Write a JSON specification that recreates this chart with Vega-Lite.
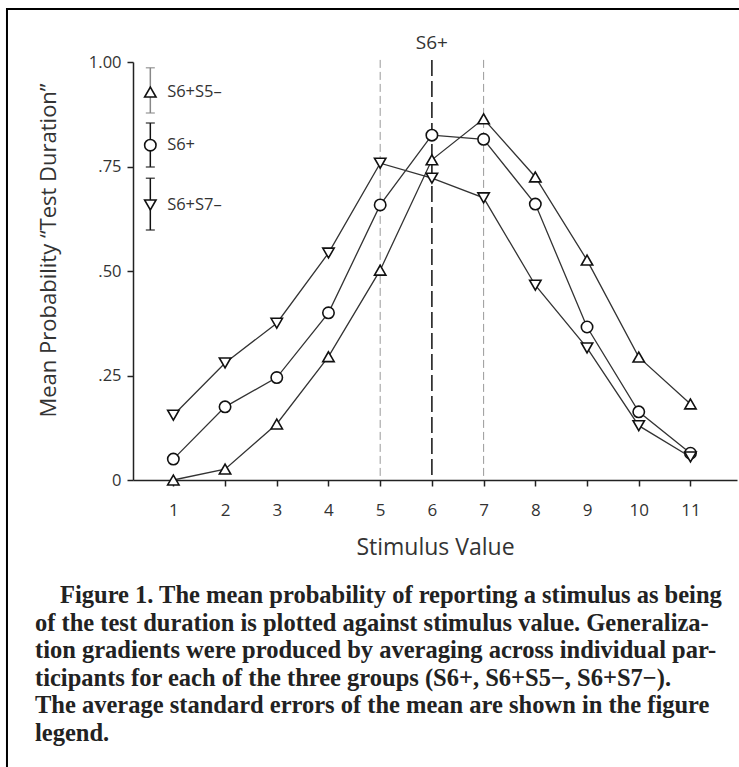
{
  "$schema": "https://vega.github.io/schema/vega-lite/v6.json",
  "width": 604,
  "height": 418,
  "autosize": {"type": "none"},
  "padding": {"left": 133, "top": 62, "right": 2, "bottom": 287},
  "background": "white",
  "config": {"view": {"stroke": null}, "font": "Open Sans"},
  "datasets": {
    "curves": [
      {"group": "S6+S5−", "stimulus": 1, "p": 0.0},
      {"group": "S6+S5−", "stimulus": 2, "p": 0.026},
      {"group": "S6+S5−", "stimulus": 3, "p": 0.134},
      {"group": "S6+S5−", "stimulus": 4, "p": 0.295},
      {"group": "S6+S5−", "stimulus": 5, "p": 0.502},
      {"group": "S6+S5−", "stimulus": 6, "p": 0.766},
      {"group": "S6+S5−", "stimulus": 7, "p": 0.864},
      {"group": "S6+S5−", "stimulus": 8, "p": 0.725},
      {"group": "S6+S5−", "stimulus": 9, "p": 0.526},
      {"group": "S6+S5−", "stimulus": 10, "p": 0.294},
      {"group": "S6+S5−", "stimulus": 11, "p": 0.182},
      {"group": "S6+", "stimulus": 1, "p": 0.05},
      {"group": "S6+", "stimulus": 2, "p": 0.175},
      {"group": "S6+", "stimulus": 3, "p": 0.245},
      {"group": "S6+", "stimulus": 4, "p": 0.4},
      {"group": "S6+", "stimulus": 5, "p": 0.658},
      {"group": "S6+", "stimulus": 6, "p": 0.825},
      {"group": "S6+", "stimulus": 7, "p": 0.815},
      {"group": "S6+", "stimulus": 8, "p": 0.66},
      {"group": "S6+", "stimulus": 9, "p": 0.366},
      {"group": "S6+", "stimulus": 10, "p": 0.163},
      {"group": "S6+", "stimulus": 11, "p": 0.064},
      {"group": "S6+S7−", "stimulus": 1, "p": 0.155},
      {"group": "S6+S7−", "stimulus": 2, "p": 0.28},
      {"group": "S6+S7−", "stimulus": 3, "p": 0.375},
      {"group": "S6+S7−", "stimulus": 4, "p": 0.543},
      {"group": "S6+S7−", "stimulus": 5, "p": 0.758},
      {"group": "S6+S7−", "stimulus": 6, "p": 0.722},
      {"group": "S6+S7−", "stimulus": 7, "p": 0.675},
      {"group": "S6+S7−", "stimulus": 8, "p": 0.466},
      {"group": "S6+S7−", "stimulus": 9, "p": 0.316},
      {"group": "S6+S7−", "stimulus": 10, "p": 0.13},
      {"group": "S6+S7−", "stimulus": 11, "p": 0.055}
    ],
    "legendSE": [
      {"group": "S6+S5−", "label": "S6+S5–", "m": 0.928, "lo": 0.878, "hi": 0.986, "tone": "gray"},
      {"group": "S6+", "label": "S6+", "m": 0.801, "lo": 0.749, "hi": 0.854, "tone": "black"},
      {"group": "S6+S7−", "label": "S6+S7–", "m": 0.658, "lo": 0.598, "hi": 0.722, "tone": "black"}
    ],
    "refs": [
      {"stimulus": 5, "kind": "flank"},
      {"stimulus": 7, "kind": "flank"},
      {"stimulus": 6, "kind": "trained"}
    ]
  },
  "layer": [
    {
      "data": {"values": [{}]},
      "mark": {"type": "rect", "fill": null, "stroke": "#000", "strokeWidth": 2},
      "encoding": {
        "x": {"datum": -2.217, "type": "quantitative", "scale": {"domain": [0.22, 11.9], "nice": false, "zero": false}},
        "x2": {"datum": 12.3},
        "y": {"datum": 1.127, "type": "quantitative", "scale": {"domain": [0, 1], "nice": false, "zero": false}},
        "y2": {"datum": -0.77}
      }
    },
    {
      "data": {"values": [{}]},
      "mark": {
        "type": "text",
        "font": "Liberation Serif",
        "fontSize": 24.5,
        "fontWeight": "bold",
        "color": "#222",
        "align": "left",
        "baseline": "top"
      },
      "encoding": {
        "x": {"datum": -1.192, "type": "quantitative"},
        "y": {"datum": -0.2488, "type": "quantitative"},
        "text": {"value": "Figure 1. The mean probability of reporting a stimulus as being"}
      }
    },
    {
      "data": {"values": [{}]},
      "mark": {
        "type": "text",
        "font": "Liberation Serif",
        "fontSize": 24.5,
        "fontWeight": "bold",
        "lineHeight": 27.5,
        "color": "#222",
        "align": "left",
        "baseline": "top"
      },
      "encoding": {
        "x": {"datum": -1.675, "type": "quantitative"},
        "y": {"datum": -0.3146, "type": "quantitative"},
        "text": {"value": [
          "of the test duration is plotted against stimulus value. Generaliza-",
          "tion gradients were produced by averaging across individual par-",
          "ticipants for each of the three groups (S6+, S6+S5−, S6+S7−).",
          "The average standard errors of the mean are shown in the figure",
          "legend."
        ]}
      }
    },
    {
      "data": {"name": "refs"},
      "transform": [{"filter": "datum.kind === 'flank'"}],
      "mark": {"type": "rule", "stroke": "#999", "strokeWidth": 1, "strokeDash": [8, 4]},
      "encoding": {
        "x": {"field": "stimulus", "type": "quantitative"},
        "y": {"datum": 1.005, "type": "quantitative"},
        "y2": {"datum": 0}
      }
    },
    {
      "data": {"name": "refs"},
      "transform": [{"filter": "datum.kind === 'trained'"}],
      "mark": {"type": "rule", "stroke": "#111", "strokeWidth": 1.5, "strokeDash": [16, 5]},
      "encoding": {
        "x": {"field": "stimulus", "type": "quantitative"},
        "y": {"datum": 1.005, "type": "quantitative"},
        "y2": {"datum": 0}
      }
    },
    {
      "data": {"values": [{"label": "S6+"}]},
      "mark": {"type": "text", "fontSize": 19, "color": "#333", "baseline": "middle", "align": "center"},
      "encoding": {
        "x": {"datum": 6, "type": "quantitative"},
        "y": {"datum": 1.045, "type": "quantitative"},
        "text": {"field": "label"}
      }
    },
    {
      "data": {"name": "curves"},
      "mark": {"type": "line", "stroke": "#333", "strokeWidth": 1.3},
      "encoding": {
        "x": {
          "field": "stimulus", "type": "quantitative",
          "axis": {
            "values": [1, 2, 3, 4, 5, 6, 7, 8, 9, 10, 11],
            "title": "Stimulus Value",
            "grid": false,
            "domainColor": "#222", "domainWidth": 1.5,
            "tickColor": "#222", "tickWidth": 1.5, "tickSize": 6,
            "labelFontSize": 17, "labelColor": "#333", "labelPadding": 16,
            "titleFontSize": 23, "titleFontWeight": "normal", "titleColor": "#333", "titlePadding": 18
          }
        },
        "y": {
          "field": "p", "type": "quantitative",
          "axis": {
            "values": [0, 0.25, 0.5, 0.75, 1],
            "labelExpr": "datum.value == 0 ? '0' : (datum.value == 1 ? '1.00' : replace(format(datum.value, '.2f'), '0.', '.'))",
            "title": "Mean Probability “Test Duration”",
            "grid": false,
            "domainColor": "#222", "domainWidth": 1.5,
            "tickColor": "#222", "tickWidth": 1.5, "tickSize": 6,
            "labelFontSize": 16.5, "labelColor": "#333", "labelPadding": 6,
            "titleFontSize": 22, "titleFontWeight": "normal", "titleColor": "#333",
            "titleX": -85, "titleY": 188, "titleAlign": "center", "titleBaseline": "middle", "titleAngle": -90
          }
        },
        "detail": {"field": "group"}
      }
    },
    {
      "data": {"name": "curves"},
      "mark": {"type": "point", "filled": false, "fill": "white", "stroke": "#111", "strokeWidth": 1.6, "opacity": 1},
      "encoding": {
        "x": {"field": "stimulus", "type": "quantitative"},
        "y": {"field": "p", "type": "quantitative"},
        "shape": {
          "field": "group", "type": "nominal",
          "scale": {"domain": ["S6+S5−", "S6+", "S6+S7−"], "range": ["triangle-up", "circle", "triangle-down"]},
          "legend": null
        },
        "size": {"value": 130}
      }
    },
    {
      "data": {"name": "legendSE"},
      "mark": {"type": "rule", "strokeWidth": 1.5},
      "encoding": {
        "x": {"datum": 0.555, "type": "quantitative"},
        "y": {"field": "lo", "type": "quantitative"},
        "y2": {"field": "hi"},
        "color": {"field": "tone", "type": "nominal", "scale": {"domain": ["gray", "black"], "range": ["#888", "#111"]}, "legend": null}
      }
    },
    {
      "data": {"name": "legendSE"},
      "mark": {"type": "tick", "orient": "horizontal", "size": 9, "thickness": 1.5},
      "encoding": {
        "x": {"datum": 0.555, "type": "quantitative"},
        "y": {"field": "lo", "type": "quantitative"},
        "color": {"field": "tone", "type": "nominal", "legend": null}
      }
    },
    {
      "data": {"name": "legendSE"},
      "mark": {"type": "tick", "orient": "horizontal", "size": 9, "thickness": 1.5},
      "encoding": {
        "x": {"datum": 0.555, "type": "quantitative"},
        "y": {"field": "hi", "type": "quantitative"},
        "color": {"field": "tone", "type": "nominal", "legend": null}
      }
    },
    {
      "data": {"name": "legendSE"},
      "mark": {"type": "point", "filled": false, "fill": "white", "stroke": "#111", "strokeWidth": 1.6, "opacity": 1},
      "encoding": {
        "x": {"datum": 0.555, "type": "quantitative"},
        "y": {"field": "m", "type": "quantitative"},
        "shape": {"field": "group", "type": "nominal", "legend": null},
        "size": {"value": 130}
      }
    },
    {
      "data": {"name": "legendSE"},
      "mark": {"type": "text", "fontSize": 16.5, "color": "#333", "align": "left", "baseline": "middle"},
      "encoding": {
        "x": {"datum": 0.88, "type": "quantitative"},
        "y": {"field": "m", "type": "quantitative"},
        "text": {"field": "label"}
      }
    }
  ]
}
